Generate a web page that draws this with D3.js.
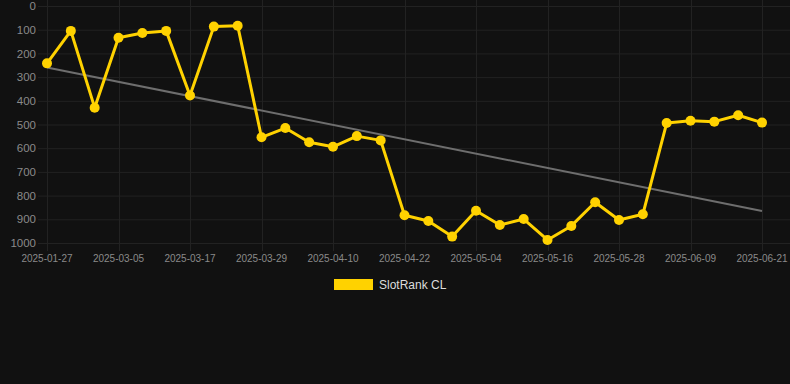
<!DOCTYPE html>
<html>
<head>
<meta charset="utf-8">
<script src="https://cdn.jsdelivr.net/npm/d3@7"></script>
<style>
  html, body { margin: 0; padding: 0; background: #111111; }
  svg { display: block; font-family: "Liberation Sans", Arial, sans-serif; }
</style>
</head>
<body>
<svg id="chart"></svg>
<script>
// data (rank, lower is better)
var dates = ["2025-01-27", "2025-02-08", "2025-02-20", "2025-03-05", "2025-03-09", "2025-03-13",
  "2025-03-17", "2025-03-21", "2025-03-25", "2025-03-29", "2025-04-02", "2025-04-06",
  "2025-04-10", "2025-04-14", "2025-04-18", "2025-04-22", "2025-04-26", "2025-04-30",
  "2025-05-04", "2025-05-08", "2025-05-12", "2025-05-16", "2025-05-20", "2025-05-24",
  "2025-05-28", "2025-06-01", "2025-06-05", "2025-06-09", "2025-06-13", "2025-06-17", "2025-06-21"];
var ranks = [242, 105, 429, 134, 114, 105, 378, 87, 83, 554, 515, 575, 594, 549, 567,
  883, 907, 973, 864, 924, 899, 987, 928, 828, 903, 879, 494, 484, 488, 461, 492];
var yTicks = [0, 100, 200, 300, 400, 500, 600, 700, 800, 900, 1000];
var seriesName = "SlotRank CL";

var W = 790, H = 384;
var margin = {top: 6, right: 28, bottom: 141, left: 47};
var width = W - margin.left - margin.right,
	height = H - margin.top - margin.bottom;

var lineColor = "#FFD200";

var svg = d3.select("#chart")
	.attr("width", W)
	.attr("height", H);

var g = svg.append("g")
	.attr("transform", "translate(" + margin.left + "," + margin.top + ")");

var x = d3.scalePoint()
	.domain(dates)
	.range([0, width]);

var y = d3.scaleLinear()
	.domain([0, 1000])
	.range([0, height]);

// horizontal grid
g.selectAll(".hgrid")
	.data(yTicks)
	.enter().append("line")
	.attr("x1", -9)
	.attr("x2", W - margin.left)
	.attr("y1", function(d) { return y(d) + 0.5; })
	.attr("y2", function(d) { return y(d) + 0.5; })
	.attr("stroke", "#222222")
	.attr("stroke-width", 1);

// vertical grid, one every 3 points
var labelDates = dates.filter(function(d, i) { return i % 3 === 0; });

g.selectAll(".vgrid")
	.data(labelDates)
	.enter().append("line")
	.attr("x1", function(d) { return Math.round(x(d)) + 0.5; })
	.attr("x2", function(d) { return Math.round(x(d)) + 0.5; })
	.attr("y1", -margin.top)
	.attr("y2", height + 8)
	.attr("stroke", "#222222")
	.attr("stroke-width", 1);

// y labels
g.selectAll(".ylab")
	.data(yTicks)
	.enter().append("text")
	.attr("x", -11)
	.attr("y", function(d) { return y(d); })
	.attr("dy", "0.36em")
	.attr("text-anchor", "end")
	.attr("fill", "#8a8a8a")
	.style("font-size", "11.5px")
	.text(function(d) { return d; });

// x labels
g.selectAll(".xlab")
	.data(labelDates)
	.enter().append("text")
	.attr("x", function(d) { return x(d); })
	.attr("y", height + 19)
	.attr("text-anchor", "middle")
	.attr("fill", "#8a8a8a")
	.style("font-size", "10px")
	.text(function(d) { return d; });

// trend line (least squares over point index)
var n = ranks.length;
var mx = d3.mean(ranks, function(d, i) { return i; });
var my = d3.mean(ranks);
var sxy = d3.sum(ranks, function(d, i) { return (i - mx) * (d - my); });
var sxx = d3.sum(ranks, function(d, i) { return (i - mx) * (i - mx); });
var slope = sxy / sxx, icept = my - slope * mx;

g.append("line")
	.attr("x1", x(dates[0]))
	.attr("x2", x(dates[n - 1]))
	.attr("y1", y(icept))
	.attr("y2", y(icept + slope * (n - 1)))
	.attr("stroke", "#6e6e6e")
	.attr("stroke-width", 2);

// series line
var line = d3.line()
	.x(function(d, i) { return x(dates[i]); })
	.y(function(d) { return y(d); });

g.append("path")
	.datum(ranks)
	.attr("d", line)
	.attr("fill", "none")
	.attr("stroke", lineColor)
	.attr("stroke-width", 3)
	.attr("stroke-linejoin", "round");

g.selectAll(".pt")
	.data(ranks)
	.enter().append("circle")
	.attr("cx", function(d, i) { return x(dates[i]); })
	.attr("cy", function(d) { return y(d); })
	.attr("r", 5)
	.attr("fill", lineColor);

// legend
var legend = svg.append("g")
	.attr("transform", "translate(334,279)");

legend.append("rect")
	.attr("width", 39)
	.attr("height", 11)
	.attr("fill", lineColor);

legend.append("text")
	.attr("x", 45)
	.attr("y", 10)
	.attr("fill", "#dddddd")
	.style("font-size", "12px")
	.text(seriesName);
</script>
</body>
</html>
